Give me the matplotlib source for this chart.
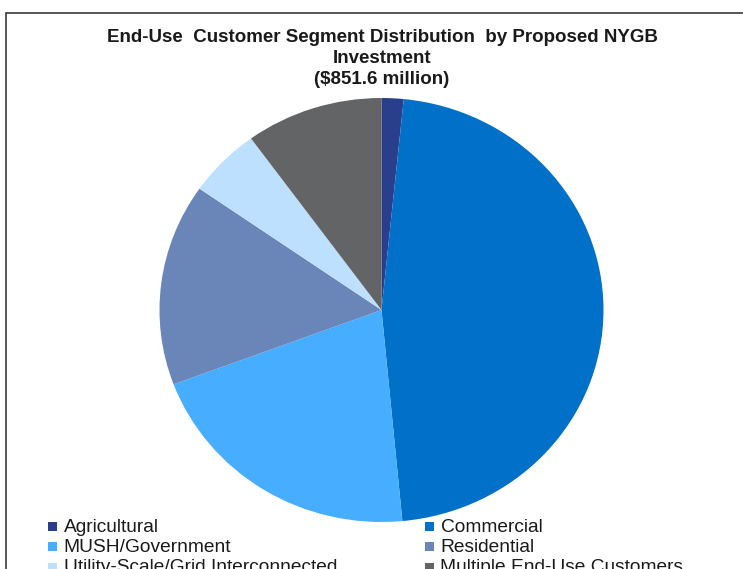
import matplotlib
matplotlib.use("Agg")
import matplotlib.pyplot as plt
from matplotlib.patches import Rectangle

categories = ["Agricultural", "Commercial", "MUSH/Government", "Residential",
              "Utility-Scale/Grid Interconnected", "Multiple End-Use Customers"]
shares = [1.6, 46.9, 20.8, 15.4, 5.3, 10.0]
colors = ["#2A3F8B", "#0070C8", "#47AEFF", "#6A85B8", "#BEE0FF", "#636466"]
title = "End-Use  Customer Segment Distribution  by Proposed NYGB\nInvestment\n($851.6 million)"

W, H = 743, 569
fig = plt.figure(figsize=(W / 100, H / 100), dpi=100)
plt.rcParams['font.family'] = ['Liberation Sans', 'DejaVu Sans']

# frame
fig.add_artist(Rectangle((5.5 / W, -0.1), 1.2, (H - 13.5) / H + 0.1, transform=fig.transFigure,
                         fill=False, edgecolor="#3a3a3a", linewidth=1.2))

cx, cy, rx, ry = 381.5, 310, 222, 212
ax = fig.add_axes([(cx - rx) / W, (H - cy - ry) / H, 2 * rx / W, 2 * ry / H])
ax.pie(shares, colors=colors, startangle=90, counterclock=False,
       wedgeprops=dict(linewidth=0))
ax.set_aspect('auto')
ax.set_xlim(-1, 1)
ax.set_ylim(-1, 1)
ax.axis('off')

fig.text(382 / W, (H - 29.5) / H, title, ha='center', va='top', fontsize=13.5,
         fontweight='bold', linespacing=1.28, color="#1a1a1a")

col_x = [48, 425]
row_y = [526, 546.5, 567]
for i, (lab, c) in enumerate(zip(categories, colors)):
    r, k = divmod(i, 2)
    x, y = col_x[k], row_y[r]
    fig.add_artist(Rectangle((x / W, (H - y - 4.5) / H), 9 / W, 9 / H,
                             transform=fig.transFigure, facecolor=c, edgecolor='none'))
    fig.text((x + 15.5) / W, (H - y - 1) / H, lab, ha='left', va='center', fontsize=13.8,
             color="#1a1a1a")

fig.savefig("out.png", dpi=100)
